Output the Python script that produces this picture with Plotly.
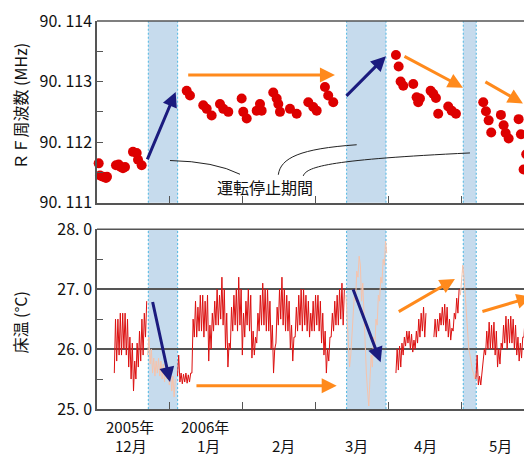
import plotly.graph_objects as go

# ---------------- data ----------------
# x positions are expressed in months counted from 1 Dec 2005 (1 = 1 Jan, 2 = 1 Feb, ...)
month_ticks = [1, 2, 3, 4, 5]
year_labels = ["2005年", "2006年"]
year_label_x = [0.452, 1.479]
month_labels = ["12月", "1月", "2月", "3月", "4月", "5月"]
month_label_x = [0.466, 1.527, 2.562, 3.562, 4.507, 5.534]

shutdown_start = [0.703, 3.420, 5.018]
shutdown_end = [1.105, 3.960, 5.196]

rf_x = [0.023, 0.041, 0.082, 0.123, 0.137, 0.260, 0.297, 0.325, 0.356, 0.384,
        0.493, 0.544, 0.562, 0.612,
        1.229, 1.274, 1.456, 1.503, 1.571, 1.685, 1.730, 1.799, 1.982, 2.004,
        2.051, 2.188, 2.233, 2.256, 2.415, 2.462, 2.484, 2.507, 2.644, 2.736,
        2.895, 2.963, 3.010, 3.123, 3.168, 3.237,
        4.096, 4.133, 4.160, 4.196, 4.333, 4.379, 4.425, 4.401, 4.571, 4.607,
        4.644, 4.675, 4.812, 4.859, 4.918,
        5.292, 5.329, 5.366, 5.401, 5.534, 5.571, 5.599, 5.640, 5.777, 5.808,
        5.881, 5.845]
rf_mhz = [90.11165, 90.11145, 90.11143, 90.11141, 90.11143, 90.11162, 90.11163, 90.11159, 90.11157, 90.11159,
          90.11184, 90.11182, 90.11171, 90.11162,
          90.11285, 90.11277, 90.11261, 90.11255, 90.11244, 90.11263, 90.11255, 90.11250, 90.11272, 90.11250,
          90.11239, 90.11252, 90.11263, 90.11252, 90.11282, 90.11272, 90.11263, 90.11250, 90.11255, 90.11247,
          90.11266, 90.11258, 90.11252, 90.11291, 90.11277, 90.11266,
          90.11344, 90.11325, 90.11300, 90.11293, 90.11296, 90.11274, 90.11272, 90.11266, 90.11285, 90.11280,
          90.11273, 90.11247, 90.11259, 90.11252, 90.11247,
          90.11266, 90.11251, 90.11236, 90.11216, 90.11245, 90.11228, 90.11215, 90.11206, 90.11238, 90.11213,
          90.11180, 90.11155]
rf_ticks = [90.111, 90.112, 90.113, 90.114]
rf_ticktext = ["90. 111", "90. 112", "90. 113", "90. 114"]

temp_ticks = [25, 26, 27, 28]
temp_ticktext = ["25. 0", "26. 0", "27. 0", "28. 0"]

# floor temperature: daily low / high readings (red = operating, pale = shutdown)
dec_start = 0.237
dec_lo = [25.6, 25.8, 25.9, 25.9, 26.0, 25.9, 25.7, 25.5, 25.3, 25.5, 25.7, 25.8, 25.9, 26.2]
dec_hi = [26.5, 26.5, 26.6, 26.6, 26.6, 26.5, 26.2, 26.1, 25.8, 26.1, 26.3, 26.5, 26.6, 26.8]

stop1_start = 0.695
stop1_lo = [25.9, 25.75, 25.6, 25.55, 25.6, 25.55, 25.5, 25.45, 25.5, 25.4, 25.3, 25.2]
stop1_hi = [26.2, 26.0, 25.85, 25.8, 25.85, 25.8, 25.75, 25.75, 25.7, 25.65, 25.55, 25.5]

jan_start = 1.103
jan_lo = [25.55, 25.45, 25.42, 25.45, 25.43, 25.45,
          25.6, 26.2, 26.2, 26.3, 26.3, 26.2, 26.3, 25.8, 26.0, 26.3,
          26.4, 26.4, 26.5, 26.4, 26.0, 25.7, 26.0, 26.3, 26.4, 26.3,
          26.4, 25.9, 26.2, 26.4, 26.3, 25.85, 25.9, 26.1, 26.3, 26.4,
          26.4, 26.3, 26.3, 26.0, 25.6, 26.1, 26.4, 26.5, 26.4, 26.3,
          26.3, 26.0, 25.8, 26.2, 26.3, 26.4, 26.3, 26.4, 26.3, 26.2,
          26.3, 26.3, 26.4, 26.3, 26.1, 25.9, 25.6, 25.8, 26.2, 26.3,
          26.4, 26.4, 26.5, 26.4]
jan_hi = [25.9, 25.6, 25.58, 25.6, 25.57, 25.6,
          26.5, 26.8, 26.7, 26.9, 26.9, 26.8, 26.9, 26.4, 26.6, 26.8,
          27.0, 26.9, 27.2, 27.0, 26.6, 26.1, 26.7, 26.9, 27.0, 27.2,
          27.0, 26.6, 26.8, 27.0, 26.9, 26.3, 26.2, 26.6, 26.9, 27.1,
          27.0, 27.0, 26.8, 26.4, 26.0, 26.7, 27.0, 27.2, 27.0, 26.9,
          26.8, 26.4, 26.2, 26.7, 26.9, 27.0, 27.0, 26.9, 26.8, 26.6,
          26.8, 26.9, 26.9, 26.8, 26.6, 26.3, 26.0, 26.2, 26.6, 26.8,
          26.9, 27.0, 27.1, 27.0]

stop2_start = 3.411
stop2_vals = [26.9, 26.4, 25.9, 25.7, 25.9, 26.2, 26.5, 26.9, 26.8, 27.3,
              27.2, 27.55, 27.4, 26.8, 27.1, 26.5, 26.0, 25.6, 25.3, 25.05,
              25.5, 25.9, 25.7, 26.2, 26.0, 26.5, 26.4, 26.9, 26.8, 27.2,
              27.1, 27.5, 27.4, 27.8, 27.6]

apr1_start = 4.096
apr1_lo = [25.6, 25.65, 25.7, 25.9, 26.05, 26.1, 26.0, 25.95, 26.0, 26.1, 26.2, 26.3, 26.2]
apr1_hi = [26.0, 26.05, 26.1, 26.2, 26.3, 26.3, 26.25, 26.15, 26.3, 26.5, 26.6, 26.7, 26.6]

apr2_start = 4.616
apr2_lo = [26.2, 26.2, 26.3, 26.4, 26.4, 26.3, 26.2, 26.15, 26.3, 26.5, 26.6]
apr2_hi = [26.5, 26.5, 26.6, 26.7, 26.75, 26.7, 26.5, 26.35, 26.6, 26.85, 27.0]

stop3_start = 4.979
stop3_vals = [26.9, 27.1, 27.4, 27.2, 26.9, 26.5, 26.2, 26.0, 25.9, 25.75, 25.65, 25.6, 25.5, 25.6]

may_start = 5.192
may_lo = [25.5, 25.4, 25.4, 25.7, 25.9, 26.0, 26.0, 26.0, 25.9, 25.7, 25.75, 26.0,
          26.1, 26.0, 26.1, 26.1, 26.0, 25.9, 25.8, 25.85, 26.2, 26.4, 26.6, 26.6]
may_hi = [25.9, 25.55, 25.6, 26.0, 26.3, 26.45, 26.4, 26.45, 26.3, 26.0, 26.1, 26.4,
          26.55, 26.5, 26.55, 26.5, 26.4, 26.2, 26.1, 26.2, 26.55, 26.7, 26.75, 26.75]

HALF_DAY = 0.5 / 30.4  # half a day expressed in months


def daily(start, lows, highs):
    xs, ys = [], []
    for i, (lo, hi) in enumerate(zip(lows, highs)):
        xs += [start + 2 * i * HALF_DAY, start + (2 * i + 1) * HALF_DAY]
        ys += [lo, hi]
    return xs, ys


def sampled(start, vals):
    return [start + i * HALF_DAY for i in range(len(vals))], list(vals)


def join(*parts):
    xs, ys = [], []
    for k, (px, py) in enumerate(parts):
        if k:
            xs.append(None)
            ys.append(None)
        xs += px
        ys += py
    return xs, ys


red_x, red_y = join(daily(dec_start, dec_lo, dec_hi), daily(jan_start, jan_lo, jan_hi),
                    daily(apr1_start, apr1_lo, apr1_hi), daily(apr2_start, apr2_lo, apr2_hi),
                    daily(may_start, may_lo, may_hi))
pale_x, pale_y = join(daily(stop1_start, stop1_lo, stop1_hi), sampled(stop2_start, stop2_vals),
                      sampled(stop3_start, stop3_vals))

# ---------------- figure ----------------
AX = "#555555"
FONT = "Noto Sans CJK JP"
XMAX = 5.96
EPS = 1e-7

fig = go.Figure()
fig.add_trace(go.Scatter(x=pale_x, y=pale_y, mode="lines", xaxis="x2", yaxis="y2",
                         line=dict(color="#f7c3ab", width=1), hoverinfo="skip"))
fig.add_trace(go.Scatter(x=red_x, y=red_y, mode="lines", xaxis="x2", yaxis="y2",
                         line=dict(color="#dc1010", width=1), hoverinfo="skip"))
fig.add_trace(go.Scatter(x=rf_x, y=rf_mhz, mode="markers", xaxis="x", yaxis="y",
                         marker=dict(size=10, color="#dd0000"), cliponaxis=False))

shapes = []
for s, e in zip(shutdown_start, shutdown_end):
    for yr in ["y domain", "y2 domain"]:
        xr = "x" if yr.startswith("y ") else "x2"
        shapes.append(dict(type="rect", xref=xr, yref=yr, x0=s, x1=e, y0=0, y1=1,
                           fillcolor="#c6dbed", line=dict(width=0), layer="below"))
        for xv in (s, e):
            shapes.append(dict(type="line", xref=xr, yref=yr, x0=xv, x1=xv, y0=0, y1=1,
                               line=dict(color="#4db6e2", width=1, dash="2px,2px"), layer="below"))
# top borders
for xr, yr in [("x", "y domain"), ("x2", "y2 domain")]:
    shapes.append(dict(type="line", xref=xr, yref=yr, x0=0, x1=XMAX, y0=1, y1=1,
                       line=dict(color=AX, width=1.5)))
# callout curves
for path in ["M 1.0,90.111697 Q 1.616,90.111681 1.959,90.111470",
             "M 2.484,90.111462 C 2.516,90.111741 2.781,90.111892 3.558,90.111957",
             "M 2.826,90.111443 C 2.873,90.111605 3.237,90.111714 5.11,90.111822"]:
    shapes.append(dict(type="path", xref="x", yref="y", path=path,
                       line=dict(color="#222222", width=1)))

NAVY = "#1b1b7e"
ORANGE = "#ff8a1c"
arrows = [
    ("x", "y", 0.681, 90.11169, 1.078, 90.11283, NAVY),
    ("x", "y", 1.229, 90.11311, 3.26, 90.11311, ORANGE),
    ("x", "y", 3.397, 90.11274, 3.959, 90.11342, NAVY),
    ("x", "y", 4.192, 90.11343, 5.014, 90.11290, ORANGE),
    ("x", "y", 5.301, 90.11301, 5.836, 90.11264, ORANGE),
    ("x2", "y2", 0.758, 26.81, 1.0, 25.45, NAVY),
    ("x2", "y2", 1.342, 25.39, 3.284, 25.39, ORANGE),
    ("x2", "y2", 3.502, 27.02, 3.886, 25.78, NAVY),
    ("x2", "y2", 4.114, 26.61, 4.904, 27.17, ORANGE),
    ("x2", "y2", 5.26, 26.62, 5.955, 26.87, ORANGE),
]
annotations = []
for xr, yr, x0, y0, x1, y1, col in arrows:
    annotations.append(dict(xref=xr, yref=yr, axref=xr, ayref=yr, x=x1, y=y1, ax=x0, ay=y0,
                            text="", showarrow=True, arrowhead=2, arrowsize=1.0,
                            arrowwidth=3, arrowcolor=col, standoff=0))

annotations.append(dict(xref="x", yref="y", x=2.295, y=90.111268, text="運転停止期間",
                        showarrow=False, xanchor="center", yanchor="middle",
                        font=dict(size=16, color="#111111", family=FONT)))

# axis titles
annotations.append(dict(xref="paper", yref="paper", x=-0.177, y=0.7797, text="ＲＦ周波数 (MHz)",
                        textangle=-90, showarrow=False, xanchor="center", yanchor="middle",
                        font=dict(size=16, color="#111111", family=FONT)))
annotations.append(dict(xref="paper", yref="paper", x=-0.177, y=0.2228, text="床温 (°C)",
                        textangle=-90, showarrow=False, xanchor="center", yanchor="middle",
                        font=dict(size=16, color="#111111", family=FONT)))

# x labels
for t, xv in zip(year_labels, year_label_x):
    annotations.append(dict(xref="x2", yref="paper", x=xv, y=-0.0456, text=t, showarrow=False,
                            xanchor="center", yanchor="middle",
                            font=dict(size=15, color="#111111", family=FONT)))
for t, xv in zip(month_labels, month_label_x):
    annotations.append(dict(xref="x2", yref="paper", x=xv, y=-0.0937, text=t, showarrow=False,
                            xanchor="center", yanchor="middle",
                            font=dict(size=15, color="#111111", family=FONT)))

common_x = dict(range=[0, XMAX], tickvals=month_ticks, ticks="inside", ticklen=7, tickwidth=1.2,
                tickcolor=AX, showticklabels=False, showline=True, linecolor=AX, linewidth=1.5,
                showgrid=False, zeroline=False, fixedrange=True)

# the page body adds an 8px margin, so the figure is 8px smaller and margins shifted
fig.update_layout(
    width=524, height=451,
    margin=dict(l=89, r=0, t=6, b=50),
    paper_bgcolor="white", plot_bgcolor="white",
    showlegend=False,
    font=dict(family=FONT, size=16, color="#111111"),
    xaxis=dict(domain=[0, 1], anchor="y", **common_x),
    xaxis2=dict(domain=[0, 1], anchor="y2", **common_x),
    yaxis=dict(domain=[0.5316, 1], anchor="x", range=[90.111 - EPS, 90.114 + EPS], tickvals=rf_ticks,
               ticktext=rf_ticktext, ticks="inside", ticklen=6, tickwidth=1.2, tickcolor=AX,
               showline=True, linecolor=AX, linewidth=1.5, showgrid=False, zeroline=False,
               ticklabeloverflow="allow",
               minor=dict(tickvals=[90.1115, 90.1125, 90.1135], ticks="inside", ticklen=6,
                          tickwidth=1.2, tickcolor=AX, showgrid=False),
               tickfont=dict(size=16, family=FONT)),
    yaxis2=dict(domain=[0, 0.4633], anchor="x2", range=[25, 28], tickvals=temp_ticks,
                ticktext=temp_ticktext, ticks="", showline=True, linecolor=AX, linewidth=1.5,
                showgrid=True, gridcolor=AX, gridwidth=1.5, zeroline=False,
                ticklabeloverflow="allow",
                minor=dict(tickvals=[25.5, 26.5, 27.5], ticks="inside", ticklen=6,
                           tickwidth=1.2, tickcolor=AX, showgrid=False),
                tickfont=dict(size=16, family=FONT)),
    shapes=shapes,
    annotations=annotations,
)

fig.write_html("out.html")
